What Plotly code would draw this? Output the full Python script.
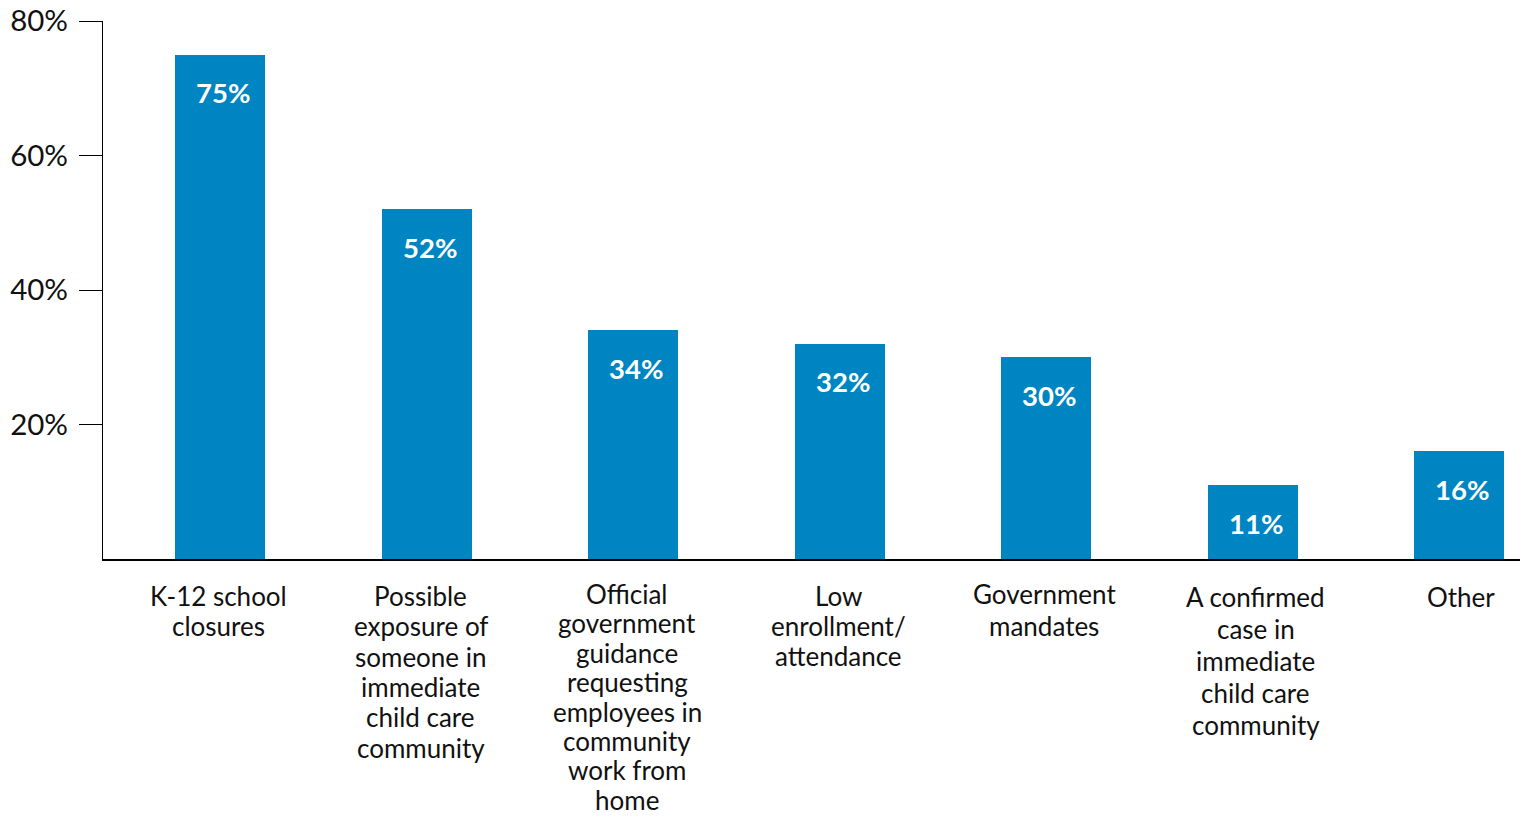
import plotly.graph_objects as go

categories = ["K-12 school<br>closures",
              "Possible<br>exposure of<br>someone in<br>immediate<br>child care<br>community",
              "Official<br>government<br>guidance<br>requesting<br>employees in<br>community<br>work from<br>home",
              "Low<br>enrollment/<br>attendance",
              "Government<br>mandates",
              "A confirmed<br>case in<br>immediate<br>child care<br>community",
              "Other"]
values = [75, 52, 34, 32, 30, 11, 16]
value_labels = ["75%", "52%", "34%", "32%", "30%", "11%", "16%"]
tick_vals = [20, 40, 60, 80]
tick_text = ["20%", "40%", "60%", "80%"]

BAR = "#0085C3"
FONT = "Lato"
# label styling: first-line offset below axis, line gap and horizontal nudge (px)
label_first = [37, 37, 35, 37, 35, 38, 38]
label_gap = [30.3, 30.3, 29.4, 30, 32, 32, 30.3]
label_nudge = [-2, -6, -6, -1, -2, 3, 2]

x_idx = list(range(len(categories)))

fig = go.Figure()
fig.add_trace(go.Bar(x=x_idx, y=values, marker=dict(color=BAR, line=dict(width=0)),
                     width=0.436, hoverinfo="skip"))

for i, (v, t) in enumerate(zip(values, value_labels)):
    fig.add_annotation(x=i, y=v, xref="x", yref="y", text=f"<b>{t}</b>",
                       showarrow=False, yanchor="middle", yshift=-38, xshift=3,
                       font=dict(family=FONT, size=27.5, color="white"))

for i, c in enumerate(categories):
    for k, line in enumerate(c.split("<br>")):
        fig.add_annotation(x=i, y=0, xref="x", yref="paper", text=line,
                           showarrow=False, yanchor="middle", borderpad=0,
                           xshift=label_nudge[i],
                           yshift=-(label_first[i] + k * label_gap[i]),
                           font=dict(family=FONT, size=26, color="#111111"))

fig.update_layout(
    width=1525, height=819,
    margin=dict(l=103, r=5, t=21, b=260, autoexpand=False),
    plot_bgcolor="white", paper_bgcolor="white",
    showlegend=False,
    bargap=0,
    xaxis=dict(range=[-0.567, 6.295], showticklabels=False, ticks="",
               showgrid=False, zeroline=False, showline=True, automargin=False,
               linecolor="black", linewidth=1.5, fixedrange=True),
    yaxis=dict(range=[0, 80], tickvals=tick_vals, ticktext=tick_text,
               ticks="outside", ticklen=23, tickcolor="black", tickwidth=1.2,
               showgrid=False, zeroline=False, showline=True, automargin=False,
               linecolor="black", linewidth=1.2, ticklabeloverflow="allow",
               ticklabelstandoff=5, fixedrange=True,
               tickfont=dict(family=FONT, size=29.5, color="#111111")),
)

fig.write_html("out.html", config={"displayModeBar": False},
               post_script="document.body.style.margin='0';document.body.style.overflow='hidden';")
